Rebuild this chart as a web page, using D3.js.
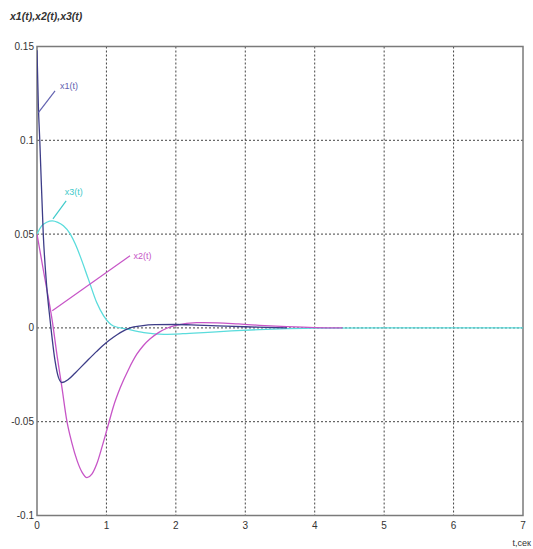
<!DOCTYPE html>
<html>
<head>
<meta charset="utf-8">
<script src="https://cdn.jsdelivr.net/npm/d3@7"></script>
<style>
 body { margin: 0; background: #fff; }
 svg { display: block; }
 text { font-family: "Liberation Sans Narrow", "Arial Narrow", "Liberation Sans", sans-serif; }
</style>
</head>
<body>
<svg width="533" height="549"></svg>
<script>
// The svg
var svg = d3.select("svg"),
 width = +svg.attr("width"),
 height = +svg.attr("height");

// Data
var t1 = [0, 0.02, 0.04, 0.09, 0.14, 0.19, 0.26, 0.31, 0.36, 0.45, 0.55, 0.72, 0.86, 1.0, 1.1, 1.2, 1.34, 1.5, 1.7, 2.0, 2.3, 2.6, 3.0, 3.3, 3.6];
var x1 = [0.148, 0.118, 0.1, 0.05, 0.022, 0.0037, -0.0176, -0.0265, -0.0291, -0.0275, -0.024, -0.0176, -0.0125, -0.0078, -0.005, -0.0025, 0.0, 0.0011, 0.0017, 0.0018, 0.0015, 0.0011, 0.0006, 0.0003, 0.0];

var t2 = [0, 0.1, 0.22, 0.29, 0.36, 0.43, 0.5, 0.58, 0.65, 0.72, 0.79, 0.86, 0.94, 1.03, 1.1, 1.2, 1.32, 1.44, 1.53, 1.63, 1.75, 1.87, 2.0, 2.3, 2.6, 2.9, 3.2, 3.6, 4.0, 4.4];
var x2 = [0.05, 0.029, 0.0037, -0.015, -0.032, -0.0496, -0.061, -0.071, -0.077, -0.0798, -0.078, -0.0726, -0.063, -0.0512, -0.042, -0.0318, -0.022, -0.0139, -0.0095, -0.0058, -0.0025, -0.0002, 0.0013, 0.0028, 0.0027, 0.0021, 0.0014, 0.0007, 0.0002, 0.0];

var t3 = [0, 0.07, 0.14, 0.22, 0.3, 0.38, 0.48, 0.55, 0.62, 0.74, 0.86, 0.96, 1.1, 1.3, 1.54, 1.83, 2.1, 2.4, 2.8, 3.2, 3.6, 4.0, 5.0, 6.0, 7.0];
var x3 = [0.05, 0.0545, 0.0563, 0.057, 0.0562, 0.0544, 0.05, 0.0448, 0.0384, 0.026, 0.0135, 0.0064, 0.001, -0.0007, -0.0025, -0.0034, -0.0031, -0.0025, -0.0016, -0.0009, -0.0004, -0.0001, 0, 0, 0];

var xTicks = [0, 1, 2, 3, 4, 5, 6, 7];
var yTicks = [-0.1, -0.05, 0, 0.05, 0.1, 0.15];
var yTickLabels = ["-0.1", "-0.05", "0", "0.05", "0.1", "0.15"];

// label annotations: [start t, start v, end t, end v, text t, text v]
var labelNames = ["x1(t)", "x2(t)", "x3(t)"];
var labelLines = [
 [0.02, 0.1148, 0.26, 0.1264, 0.33, 0.1275],
 [0.22, 0.0091, 1.34, 0.0384, 1.39, 0.0368],
 [0.23, 0.0581, 0.42, 0.0677, 0.40, 0.0709]
];

var colors = ["#3d3d88", "#c755c7", "#5adcdc"];
var labelColors = ["#6262b0", "#c755c7", "#3fcaca"];

// Scales
var x = d3.scaleLinear().domain([0, 7]).range([37, 523]);
var y = d3.scaleLinear().domain([-0.1, 0.15]).range([515.5, 46.5]);

// Title
svg.append("text")
 .attr("x", 10)
 .attr("y", 20)
 .style("font-size", "10.5px")
 .style("font-weight", "bold")
 .style("font-style", "italic")
 .attr("fill", "#333")
 .text("x1(t),x2(t),x3(t)");

// Grid
var grid = svg.append("g")
 .attr("stroke", "#444")
 .attr("stroke-width", 1)
 .attr("stroke-dasharray", "2,2");
grid.selectAll(".vg")
 .data(xTicks.slice(1, -1))
 .enter().append("line")
 .attr("x1", function (d) { return x(d); })
 .attr("x2", function (d) { return x(d); })
 .attr("y1", y(0.15))
 .attr("y2", y(-0.1));
grid.selectAll(".hg")
 .data(yTicks.slice(1, -1))
 .enter().append("line")
 .attr("x1", x(0))
 .attr("x2", x(7))
 .attr("y1", function (d) { return y(d); })
 .attr("y2", function (d) { return y(d); });

// Frame
svg.append("rect")
 .attr("x", x(0))
 .attr("y", y(0.15))
 .attr("width", x(7) - x(0))
 .attr("height", y(-0.1) - y(0.15))
 .attr("fill", "none")
 .attr("stroke", "#7a7a7a")
 .attr("stroke-width", 1.5);

// Axes labels
svg.append("g")
 .selectAll("text")
 .data(yTicks)
 .enter().append("text")
 .attr("x", x(0) - 3)
 .attr("y", function (d) { return y(d) + 3.5; })
 .attr("text-anchor", "end")
 .style("font-size", "10px")
 .attr("fill", "#333")
 .text(function (d, i) { return yTickLabels[i]; });

svg.append("g")
 .selectAll("text")
 .data(xTicks)
 .enter().append("text")
 .attr("x", function (d) { return x(d); })
 .attr("y", y(-0.1) + 13)
 .attr("text-anchor", "middle")
 .style("font-size", "10px")
 .attr("fill", "#333")
 .text(function (d) { return d; });

svg.append("text")
 .attr("x", 531)
 .attr("y", 546)
 .attr("text-anchor", "end")
 .style("font-size", "9px")
 .attr("fill", "#333")
 .text("t,сек");

// Curves
svg.append("clipPath").attr("id", "plot")
 .append("rect")
 .attr("x", x(0)).attr("y", y(0.15))
 .attr("width", x(7) - x(0)).attr("height", y(-0.1) - y(0.15));

var line = d3.line()
 .x(function (d) { return x(d[0]); })
 .y(function (d) { return y(d[1]); })
 .curve(d3.curveMonotoneX);

var series = [
 d3.zip(t3, x3),
 d3.zip(t2, x2),
 d3.zip(t1, x1)
];
var seriesColors = [colors[2], colors[1], colors[0]];

svg.append("g")
 .attr("clip-path", "url(#plot)")
 .selectAll("path")
 .data(series)
 .enter().append("path")
 .attr("fill", "none")
 .attr("stroke", function (d, i) { return seriesColors[i]; })
 .attr("stroke-width", 1.3)
 .attr("d", line);

// Curve labels
var ann = svg.append("g");
ann.selectAll("line")
 .data(labelLines)
 .enter().append("line")
 .attr("x1", function (d) { return x(d[0]); })
 .attr("y1", function (d) { return y(d[1]); })
 .attr("x2", function (d) { return x(d[2]); })
 .attr("y2", function (d) { return y(d[3]); })
 .attr("stroke", function (d, i) { return labelColors[i]; })
 .attr("stroke-width", 1.2);
ann.selectAll("text")
 .data(labelLines)
 .enter().append("text")
 .attr("x", function (d) { return x(d[4]); })
 .attr("y", function (d) { return y(d[5]); })
 .style("font-size", "9px")
 .attr("fill", function (d, i) { return labelColors[i]; })
 .text(function (d, i) { return labelNames[i]; });
</script>
</body>
</html>
